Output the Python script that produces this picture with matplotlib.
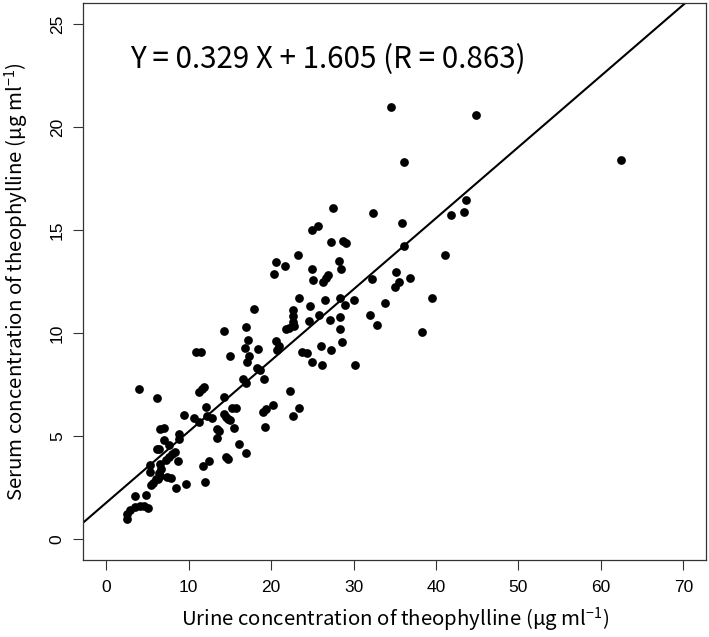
import numpy as np
import matplotlib
matplotlib.use("Agg")
import matplotlib.pyplot as plt

plt.rcParams['mathtext.fontset'] = 'custom'
plt.rcParams['mathtext.rm'] = 'Noto Sans CJK KR'
plt.rcParams['mathtext.default'] = 'regular'

# urine (x) vs serum (y) theophylline
urine = [2.5, 2.5, 2.85, 3.5, 4.1, 4.6, 5.1, 3.46, 4.78, 4.0,
         6.2, 5.4, 5.7, 6.0, 6.3, 6.5, 6.4, 6.6, 6.5, 5.3,
         5.3, 7.4, 7.9, 8.5, 9.7, 6.1, 6.4, 6.5, 7.0, 7.0,
         7.6, 7.2, 7.6, 8.0, 8.3, 8.7, 8.8, 8.8, 9.45, 10.7,
         11.2, 10.9, 11.5, 11.2, 11.6, 11.8, 12.1, 12.2, 12.8, 11.7,
         12.5, 11.95, 13.4, 13.7, 13.4, 14.3, 14.3, 14.3, 14.5, 14.8,
         15.2, 15.7, 15.0, 15.5, 14.5, 14.8, 15.0, 16.1, 16.9, 16.6,
         16.9, 16.8, 17.0, 17.2, 17.1, 17.3, 17.9, 18.4, 18.3, 18.7,
         19.1, 19.0, 19.4, 19.2, 20.2, 20.3, 20.6, 21.7, 20.6, 20.9,
         20.7, 21.8, 22.2, 22.3, 22.7, 22.7, 22.6, 22.7, 22.8, 23.3,
         23.4, 23.4, 23.8, 24.3, 24.6, 24.7, 24.9, 24.9, 24.9, 25.1,
         25.7, 25.8, 26.0, 26.2, 26.3, 26.5, 26.6, 26.9, 27.1, 27.2,
         27.2, 27.5, 28.2, 28.3, 28.3, 28.3, 28.5, 28.6, 28.7, 28.9,
         29.1, 30.0, 30.2, 32.0, 32.2, 32.3, 32.9, 33.8, 34.5, 35.0,
         35.2, 35.5, 35.9, 36.1, 36.1, 36.9, 38.3, 39.5, 41.1, 41.8,
         43.4, 43.6, 44.8, 62.5]
serum = [1.0, 1.22, 1.42, 1.55, 1.62, 1.62, 1.5, 2.09, 2.13, 7.28,
         6.88, 2.62, 2.75, 2.91, 2.94, 3.07, 3.23, 3.4, 3.64, 3.59,
         3.25, 3.02, 2.99, 2.5, 2.67, 4.4, 4.36, 5.37, 5.41, 4.8,
         4.6, 3.85, 4.0, 4.15, 4.25, 3.8, 5.09, 4.88, 6.01, 5.88,
         5.7, 9.1, 9.1, 7.16, 7.27, 7.38, 6.41, 6.0, 5.9, 3.55,
         3.8, 2.78, 5.35, 5.25, 4.9, 6.9, 10.1, 6.06, 5.95, 5.85,
         6.38, 6.38, 5.8, 5.4, 3.99, 3.88, 8.88, 4.65, 4.2, 7.8,
         7.6, 9.29, 10.3, 9.68, 8.6, 8.9, 11.15, 9.22, 8.3, 8.2,
         7.76, 6.2, 6.3, 5.47, 6.54, 12.88, 13.44, 13.28, 9.6, 9.4,
         9.2, 10.18, 10.26, 7.19, 6.0, 11.12, 10.82, 10.55, 10.34, 13.8,
         11.72, 6.38, 9.1, 9.02, 10.6, 11.3, 15.0, 13.12, 8.6, 12.6,
         15.2, 10.9, 9.4, 8.48, 12.5, 11.6, 12.7, 12.83, 10.62, 9.2,
         14.43, 16.08, 13.49, 11.71, 10.8, 10.21, 13.09, 9.58, 14.48, 11.38,
         14.38, 11.63, 8.47, 10.9, 12.65, 15.84, 10.39, 11.45, 20.97, 12.24,
         12.98, 12.5, 15.35, 14.22, 18.3, 12.68, 10.08, 11.7, 13.78, 15.72,
         15.88, 16.45, 20.6, 18.41]

# printed equation
slope = 0.329
intercept = 1.605
r_value = 0.863
# the drawn line in the figure is a bit steeper than the printed one
line_slope = 0.345
line_intercept = 1.78

x_ticks = [0, 10, 20, 30, 40, 50, 60, 70]
y_ticks = [0, 5, 10, 15, 20, 25]

W, H = 709, 637
fig = plt.figure(figsize=(W / 100, H / 100), dpi=100)
ax = fig.add_axes([83.2 / W, 1 - 560 / H, 623.2 / W, 556.7 / H])

xlim = (-2.8, 72.8)
ylim = (-1, 26)
ax.set_xlim(xlim)
ax.set_ylim(ylim)

ax.plot(urine, serum, 'o', color='black', markersize=6.3, markeredgewidth=0)
lx = np.array(xlim)
ax.plot(lx, line_slope * lx + line_intercept, color='black', linewidth=1.5)

ax.text(2.85, 23.25, f"Y = {slope} X + {intercept} (R = {r_value})",
        fontsize=21.3, family='Noto Sans CJK KR', ha='left', va='center')

ax.set_xticks(x_ticks)
ax.set_yticks(y_ticks)
ax.tick_params(direction='out', length=7.2, width=0.8, color='#333333',
               labelsize=12.5, pad=7)
ax.tick_params(axis='y', labelrotation=90, pad=6)
for lab in ax.get_xticklabels() + ax.get_yticklabels():
    lab.set_family('Liberation Sans')
for lab in ax.get_yticklabels():
    lab.set_va('center')
for sp in ax.spines.values():
    sp.set_linewidth(0.9)
    sp.set_color('#333333')

fig.text(394.8 / W, 1 - 620 / H,
         r"Urine concentration of theophylline (μg ml$^{-1}$)",
         fontsize=14.7, family='Noto Sans CJK KR', ha='center', va='center')
fig.text(17 / W, 1 - 281.7 / H,
         r"Serum concentration of theophylline (μg ml$^{-1}$)",
         fontsize=14.7, family='Noto Sans CJK KR', ha='center', va='center',
         rotation=90)

fig.savefig("out.png", dpi=100)
